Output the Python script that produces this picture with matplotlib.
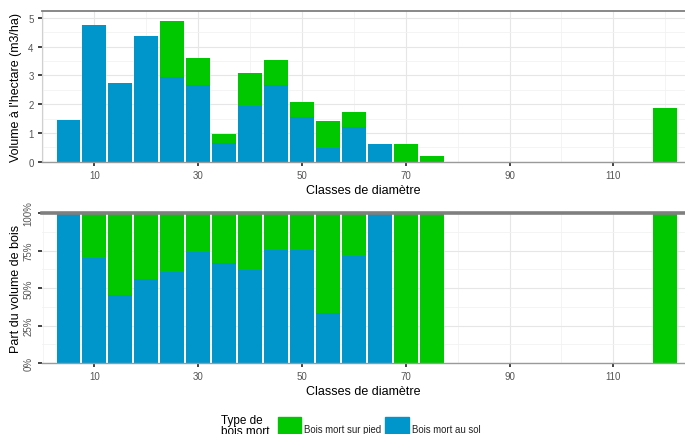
import matplotlib
matplotlib.use("Agg")
import matplotlib.pyplot as plt
from matplotlib.patches import Rectangle
from matplotlib.ticker import MultipleLocator, FixedLocator, PercentFormatter

plt.rcParams['font.family'] = ['Liberation Sans', 'DejaVu Sans']

# Diameter classes (cm)
classes = [5, 10, 15, 20, 25, 30, 35, 40, 45, 50, 55, 60, 65, 70, 75, 120]

# Volume per hectare (m3/ha) by dead-wood type
vol_sol = [1.46, 4.77, 2.74, 4.36, 2.93, 2.65, 0.65, 1.93, 2.65, 1.55, 0.47, 1.21, 0.61, 0.0, 0.0, 0.0]
vol_pied = [0.0, 0.0, 0.0, 0.0, 1.96, 0.97, 0.31, 1.16, 0.89, 0.53, 0.95, 0.51, 0.0, 0.63, 0.21, 1.87]

# Share of wood volume (fraction) lying on the ground
part_sol = [1.0, 0.70, 0.455, 0.558, 0.607, 0.74, 0.67, 0.622, 0.753, 0.753, 0.333, 0.716, 1.0, 0.0, 0.0, 0.0]
part_pied = [1 - p for p in part_sol]

legend_labels = ["Bois mort sur pied", "Bois mort au sol"]
legend_title = "Type de\nbois mort"
x_label = "Classes de diamètre"
y_label_top = "Volume à l'hectare (m3/ha)"
y_label_bottom = "Part du volume de bois"

green = "#00C800"
blue = "#0096CC"
bar_w = 4.6

fig = plt.figure(figsize=(6.85, 4.35), dpi=100)
W, H = 685, 435


def ax_rect(x0, y0, x1, y1):
    return [x0 / W, 1 - y1 / H, (x1 - x0) / W, (y1 - y0) / H]


ax1 = fig.add_axes(ax_rect(42, 12.3, 685, 162.7))
ax2 = fig.add_axes(ax_rect(42, 214, 685, 364))

for ax in (ax1, ax2):
    ax.set_facecolor("white")
    ax.set_xlim(-0.1, 123.8)
    ax.xaxis.set_major_locator(FixedLocator([10, 30, 50, 70, 90, 110]))
    ax.xaxis.set_minor_locator(FixedLocator([0, 20, 40, 60, 80, 100, 120]))
    ax.grid(which="major", color="#E6E6E6", linewidth=0.8, zorder=0)
    ax.grid(which="minor", color="#F2F2F2", linewidth=0.6, zorder=0)
    ax.set_axisbelow(True)
    ax.tick_params(axis="both", which="major", length=3, width=1.2, color="#222222",
                   labelsize=7, labelcolor="#555555", pad=3)
    ax.tick_params(axis="both", which="minor", length=0)
    ax.spines["right"].set_visible(False)
    ax.spines["bottom"].set_color("#9A9A9A")
    ax.spines["bottom"].set_linewidth(1.0)
    ax.set_xlabel(x_label, fontsize=9, labelpad=3)

# Volume per hectare, stacked
ax1.bar(classes, vol_sol, width=bar_w, color=blue, zorder=2)
ax1.bar(classes, vol_pied, width=bar_w, bottom=vol_sol, color=green, zorder=2)
ax1.set_ylim(0, 5.23)
ax1.yaxis.set_major_locator(MultipleLocator(1))
ax1.yaxis.set_minor_locator(MultipleLocator(0.5))
ax1.spines["top"].set_color("#7F7F7F")
ax1.spines["top"].set_linewidth(1.3)
ax1.spines["left"].set_color("#D0D0D0")
ax1.spines["left"].set_linewidth(0.8)
ax1.set_ylabel(y_label_top, fontsize=9, labelpad=3)

# Share of volume, stacked to 100 %
ax2.bar(classes, part_sol, width=bar_w, color=blue, zorder=2)
ax2.bar(classes, part_pied, width=bar_w, bottom=part_sol, color=green, zorder=2)
ax2.set_ylim(0, 1)
ax2.yaxis.set_major_locator(MultipleLocator(0.25))
ax2.yaxis.set_minor_locator(MultipleLocator(0.125))
ax2.yaxis.set_major_formatter(PercentFormatter(1.0, decimals=0))
for lab in ax2.get_yticklabels():
    lab.set_rotation(90)
    lab.set_va("center")
ax2.spines["top"].set_color("#7F7F7F")
ax2.spines["top"].set_linewidth(2.6)
ax2.spines["top"].set_zorder(3)
ax2.spines["left"].set_visible(False)
ax2.set_ylabel(y_label_bottom, fontsize=9, labelpad=3)
ax1.yaxis.set_label_coords(-0.031, 0.5)
ax2.yaxis.set_label_coords(-0.031, 0.5)

# Legend along the bottom edge
fig.text(221 / W, 1 - 415 / H, legend_title, fontsize=8.5, va="top", ha="left",
         linespacing=0.9)
keys = [(277.5, green), (385.5, blue)]
for (kx, col), lab in zip(keys, legend_labels):
    fig.patches.append(Rectangle((kx / W, -0.02), 23.5 / W, 0.02 + (1 - 417.5 / H),
                                 transform=fig.transFigure, color=col, zorder=2))
    fig.text((kx + 27) / W, 1 - 430 / H, lab, fontsize=6.9, va="center", ha="left",
             color="#222222")

fig.savefig("out.png", dpi=100)
